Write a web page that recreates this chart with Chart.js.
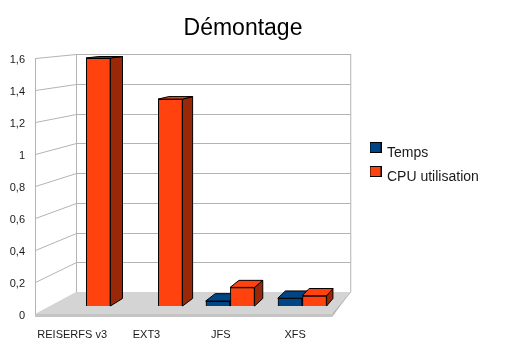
<!doctype html>
<html lang="fr">
<head>
  <meta charset="utf-8">
  <title>Démontage</title>
  <style>
    body { margin: 0; background: white; }
  </style>
</head>
<body>
  <canvas id="demontage" width="486" height="359"></canvas>
  <script src="https://cdn.jsdelivr.net/npm/chart.js@4/dist/chart.umd.min.js"></script>
  <script>
    const categories = ["REISERFS v3", "EXT3", "JFS", "XFS"];
    const tempsValues = [null, null, 0.032, 0.05];
    const cpuValues = [1.6, 1.335, 0.12, 0.066];

    const BLUE = "#004586", BLUE_SIDE = "#00294f", ORANGE = "#ff420e", ORANGE_SIDE = "#992809";
    const FONT = "'Liberation Sans', Arial, sans-serif";
    const WALL_LINE = "#b3b3b3";

    // legend swatch sits a bit higher than its text in the original
    function swatch(color) {
        const c = document.createElement("canvas");
        c.width = 12;
        c.height = 22;
        const g = c.getContext("2d");
        g.fillStyle = color;
        g.fillRect(0, 0, 12, 11);
        g.strokeStyle = "#000";
        g.strokeRect(0.5, 0.5, 11, 10);
        return c;
    }

    function poly(ctx, pts, fill, stroke) {
        ctx.beginPath();
        pts.forEach((p, i) => i ? ctx.lineTo(p[0], p[1]) : ctx.moveTo(p[0], p[1]));
        ctx.closePath();
        if (fill) { ctx.fillStyle = fill; ctx.fill(); }
        if (stroke) { ctx.strokeStyle = stroke; ctx.lineWidth = 1; ctx.stroke(); }
    }

    // fake 3D: walls and floor behind the bars, depth faces on the bars
    const depth3d = {
        id: "depth3d",
        afterLayout(chart) {
            const legend = chart.legend;
            legend.left = 371 - legend.options.labels.padding;
            legend.right = chart.width;
            legend.top = 136;
            legend.bottom = chart.height;
            // title is centred on the canvas, not on the padded area
            chart.titleBlock.left = 0;
            chart.titleBlock.right = chart.width;
        },
        beforeDatasetsDraw(chart) {
            const { ctx, chartArea: a, scales } = chart;
            const y = scales.y;
            const backLeft = a.left + 41, backRight = a.right + 18;
            const backY = v => y.getPixelForValue(v) - 22 + 18 * v / 1.6;
            const top = y.max, bottom = y.min;
            ctx.save();
            // floor
            poly(ctx, [[a.left, a.bottom], [backLeft, backY(bottom)], [backRight, backY(bottom)], [a.right, a.bottom]], "#d4d4d4");
            poly(ctx, [[a.left, a.bottom], [a.right, a.bottom], [a.right, a.bottom + 3], [a.left, a.bottom + 3]], "#c4c4c4");
            poly(ctx, [[a.right, a.bottom], [backRight, backY(bottom)], [a.right, a.bottom + 3]], "#b8b8b8");
            // wall lines
            ctx.strokeStyle = WALL_LINE;
            ctx.lineWidth = 1;
            ctx.beginPath();
            y.ticks.forEach(t => {
                if (t.value === bottom) return;
                const py = Math.round(y.getPixelForValue(t.value)) + 0.5;
                const by = Math.round(backY(t.value)) + 0.5;
                ctx.moveTo(a.left + 0.5, py);
                ctx.lineTo(backLeft + 0.5, by);
                ctx.lineTo(backRight + 0.5, by);
            });
            ctx.moveTo(a.left + 0.5, y.getPixelForValue(top));
            ctx.lineTo(a.left + 0.5, a.bottom);
            ctx.moveTo(backLeft + 0.5, backY(top));
            ctx.lineTo(backLeft + 0.5, backY(bottom));
            ctx.moveTo(backRight + 0.5, backY(top));
            ctx.lineTo(backRight + 0.5, backY(bottom));
            ctx.lineTo(a.right + 0.5, a.bottom);
            ctx.stroke();
            ctx.restore();
        },
        afterDatasetsDraw(chart) {
            const { ctx } = chart;
            const dx = x => 12.7 - (x - 85) * 0.0265;
            const dy = py => 1.5 + (py - 58) * 6 / 248;
            const sides = [[BLUE, BLUE_SIDE], [ORANGE, ORANGE_SIDE]];
            ctx.save();
            categories.forEach((c, i) => {
                chart.data.datasets.forEach((ds, d) => {
                    if (ds.data[i].y === null) return;
                    const bar = chart.getDatasetMeta(d).data[i];
                    const left = bar.x - bar.width / 2, right = bar.x + bar.width / 2;
                    const t = bar.y, b = bar.base;
                    const rx = right + dx(right), lx = left + dx(left);
                    poly(ctx, [[right, t], [rx, t - dy(t)], [rx, b - dy(b)], [right, b]], sides[d][1], "#000");
                    poly(ctx, [[left, t], [lx, t - dy(t)], [rx, t - dy(t)], [right, t]], sides[d][0], "#000");
                    bar.draw(ctx);
                });
            });
            ctx.restore();
        }
    };

    new Chart(document.getElementById("demontage"), {
        type: "bar",
        data: {
            labels: categories,
            datasets: [
                {
                    label: "Temps",
                    data: tempsValues.map((v, i) => ({ x: i, y: v })),
                    backgroundColor: BLUE,
                },
                {
                    label: "CPU utilisation",
                    data: cpuValues.map((v, i) => ({ x: i, y: v })),
                    backgroundColor: ORANGE,
                },
            ].map(ds => ({
                ...ds,
                xAxisID: "xBars",
                yAxisID: "yBars",
                borderColor: "#000",
                borderWidth: 1,
                categoryPercentage: 0.678,
                barPercentage: 1,
                clip: false,
            })),
        },
        options: {
            responsive: false,
            animation: false,
            layout: { padding: { right: 43 } },
            scales: {
                // what the labels read: the front edge of the box
                x: {
                    type: "category",
                    offset: true,
                    grid: { display: false, drawTicks: false },
                    border: { display: false },
                    ticks: {
                        padding: 14,
                        maxRotation: 0,
                        autoSkip: false,
                        color: "#1a1a1a",
                        font: { family: FONT, size: 11 },
                    },
                    afterFit(scale) { scale.height = 45; },
                },
                y: {
                    min: 0,
                    max: 1.6,
                    grid: { display: false, drawTicks: false },
                    border: { display: false },
                    ticks: {
                        stepSize: 0.2,
                        padding: 10,
                        labelOffset: 2,
                        color: "#1a1a1a",
                        font: { family: FONT, size: 11 },
                        callback: v => String(Math.round(v * 10) / 10).replace(".", ","),
                    },
                    afterFit(scale) { scale.width = 35; },
                },
                // bars stand further back on the floor than the front edge
                xBars: { type: "linear", display: false, offset: false, min: -0.708, max: 3.417 },
                yBars: { type: "linear", display: false, min: -0.0516, max: 1.6 },
            },
            plugins: {
                title: {
                    display: true,
                    text: "Démontage",
                    color: "#000",
                    font: { family: FONT, size: 23, weight: "normal" },
                    padding: { top: 15, bottom: 15.4 },
                },
                legend: {
                    position: "right",
                    align: "start",
                    labels: {
                        usePointStyle: true,
                        pointStyleWidth: 9,
                        padding: 10,
                        color: "#1a1a1a",
                        font: { family: FONT, size: 14 },
                        generateLabels: chart => chart.data.datasets.map((ds, i) => ({
                            text: ds.label,
                            datasetIndex: i,
                            pointStyle: swatch(ds.backgroundColor),
                            fontColor: "#1a1a1a",
                            lineWidth: 0,
                        })),
                    },
                },
                tooltip: { enabled: false },
            },
        },
        plugins: [depth3d],
    });
  </script>
</body>
</html>
